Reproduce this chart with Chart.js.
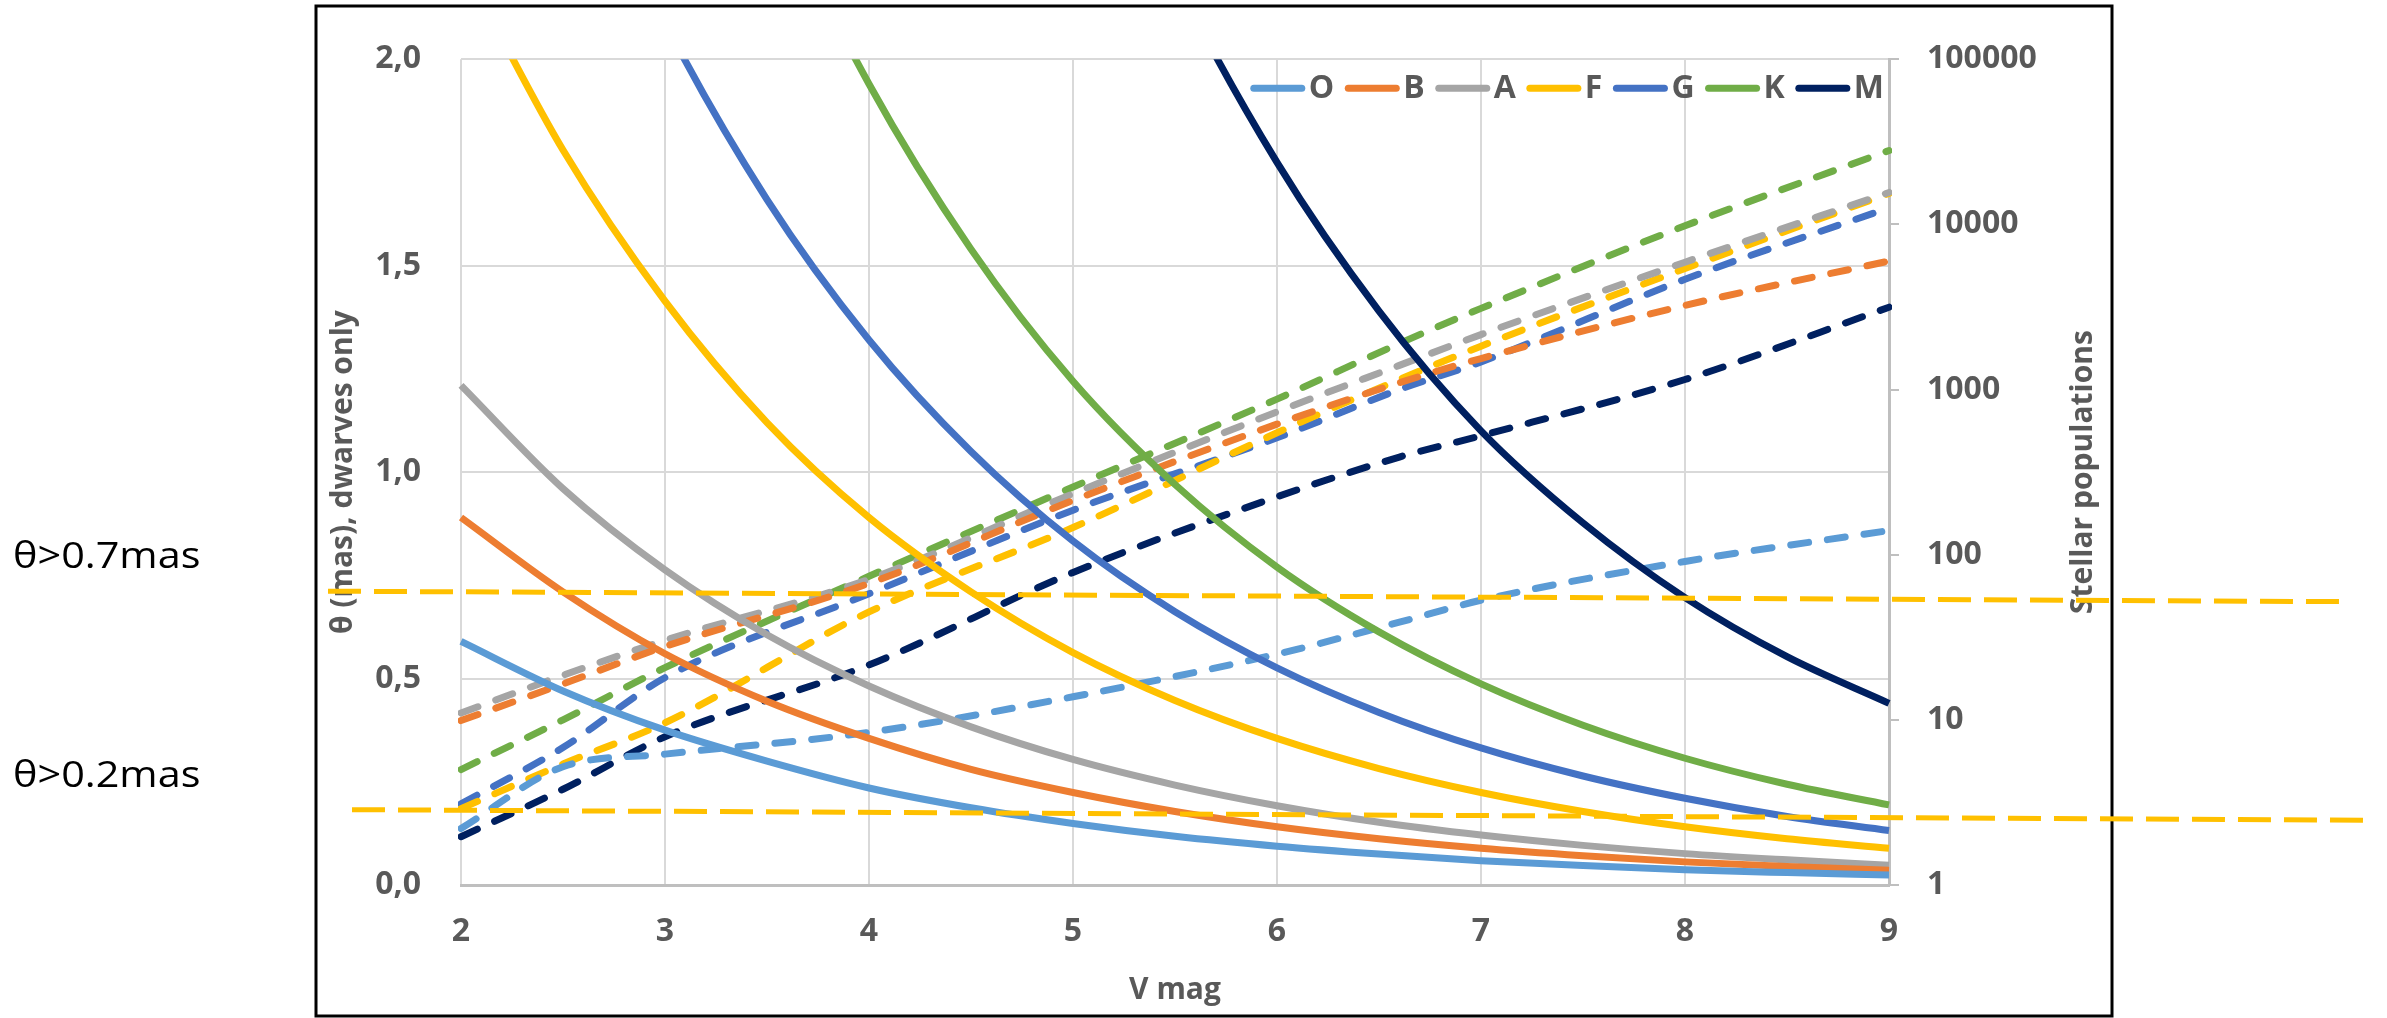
<!DOCTYPE html>
<html>
<head>
<meta charset="utf-8">
<script src="https://cdn.jsdelivr.net/npm/chart.js@4.4.0/dist/chart.umd.min.js"></script>
<style>
  html, body { margin: 0; padding: 0; background: #ffffff; }
  canvas { display: block; }
</style>
</head>
<body>
<canvas id="chart" width="2387" height="1018"></canvas>
<script>

// spectral types, one solid (angular size) and one dashed (population) curve each
var spectralTypes = ['O', 'B', 'A', 'F', 'G', 'K', 'M'];

// angular diameter of dwarfs (mas) vs V mag
var vmagTheta = [2, 2.5, 3, 3.5, 4, 4.5, 5, 5.5, 6, 6.5, 7, 7.5, 8, 8.5, 9];
var thetaO = [0.59, 0.47, 0.375, 0.30, 0.235, 0.187, 0.149, 0.118, 0.094, 0.075, 0.059, 0.047, 0.037, 0.030, 0.024];
var thetaB = [0.89, 0.71, 0.56, 0.445, 0.355, 0.28, 0.224, 0.178, 0.141, 0.112, 0.089, 0.071, 0.056, 0.045, 0.036];
var thetaA = [1.21, 0.96, 0.763, 0.606, 0.482, 0.383, 0.304, 0.242, 0.192, 0.152, 0.121, 0.096, 0.076, 0.061, 0.048];
var thetaF = [2.24, 1.78, 1.414, 1.12, 0.89, 0.71, 0.563, 0.447, 0.355, 0.282, 0.224, 0.178, 0.141, 0.112, 0.089];
var thetaG = [3.3, 2.63, 2.09, 1.66, 1.32, 1.05, 0.833, 0.662, 0.526, 0.418, 0.332, 0.264, 0.21, 0.166, 0.132];
var thetaK = [4.86, 3.86, 3.07, 2.44, 1.94, 1.54, 1.22, 0.97, 0.77, 0.613, 0.487, 0.387, 0.307, 0.244, 0.194];
var thetaM = [11.0, 8.77, 6.97, 5.54, 4.40, 3.49, 2.77, 2.20, 1.75, 1.39, 1.10, 0.877, 0.696, 0.553, 0.44];

var vmagCount = [2, 2.5, 3, 4, 5, 6, 6.6, 7, 8, 9];
var countO = [2.2, 5.2, 6.2, 8.4, 13.8, 25, 39, 53, 91, 140];
var countB = [9.9, 16.5, 27.8, 67, 213, 617, 1100, 1540, 3230, 6000];
var countA = [11.0, 18.6, 30.3, 71, 234, 733, 1400, 2150, 5900, 15600];
var countF = [2.9, 5.4, 9.6, 45, 146, 547, 1150, 1830, 5400, 15400];
var countG = [3.1, 6.8, 18, 58, 186, 510, 1000, 1470, 4650, 12600];
var countK = [5.0, 10, 20.7, 74, 257, 875, 1900, 3100, 9800, 28000];
var countM = [1.96, 3.8, 7.9, 21.5, 78, 224, 390, 525, 1150, 3150];

// tick labels as printed on the axes
var vmagTickLabels = ['2', '3', '4', '5', '6', '7', '8', '9'];
var thetaTickLabels = ['0,0', '0,5', '1,0', '1,5', '2,0'];
var countTickLabels = ['1', '10', '100', '1000', '10000', '100000'];

// hand drawn threshold lines (theta where they meet the left and right plot edges)
var thresholdLabels = ['\u03b8>0.7mas', '\u03b8>0.2mas'];
var thresholdAtLeft = [0.71, 0.181];
var thresholdAtRight = [0.692, 0.163];

var thetaSeries = [thetaO, thetaB, thetaA, thetaF, thetaG, thetaK, thetaM];
var countSeries = [countO, countB, countA, countF, countG, countK, countM];

// Office palette
var typeColors = ['#5B9BD5', '#ED7D31', '#A5A5A5', '#FFC000', '#4472C4', '#70AD47', '#002060'];
var textGrey = '#595959';
var gridGrey = '#D9D9D9';
var axisGrey = '#BFBFBF';
var fontFamily = '"Open Sans", "Liberation Sans", sans-serif';

function toPoints(xs, ys) {
  return xs.map(function (x, i) { return { x: x, y: ys[i] }; });
}

var datasets = [];

spectralTypes.forEach(function (t, i) {
  datasets.push({
    label: t,
    data: toPoints(vmagTheta, thetaSeries[i]),
    yAxisID: 'y',
    borderColor: typeColors[i],
    borderWidth: 7,
    pointRadius: 0,
    cubicInterpolationMode: 'monotone',
    clip: { left: 3, top: 0, right: 3, bottom: 3 }
  });
});

spectralTypes.forEach(function (t, i) {
  datasets.push({
    label: t + ' population',
    data: toPoints(vmagCount, countSeries[i]),
    yAxisID: 'y2',
    borderColor: typeColors[i],
    borderWidth: 7,
    borderDash: [18, 19],
    borderCapStyle: 'round',
    pointRadius: 0,
    cubicInterpolationMode: 'monotone',
    clip: { left: 3, top: 0, right: 3, bottom: 3 }
  });
});

function parseTick(s) {
  return Number(s.replace(',', '.'));
}

//
// Legend for the solid curves, sitting inside the top right of the plot
//
var typeLegend = {
  id: 'typeLegend',
  afterDatasetsDraw: function (chart) {
    var ctx = chart.ctx;
    var area = chart.chartArea;
    var lineLen = 54, lineGap = 4, itemGap = 11;
    var y = area.top + 29;

    ctx.save();
    ctx.font = 'bold 32px ' + fontFamily;
    var total = 0;
    spectralTypes.forEach(function (t, i) {
      total += lineLen + lineGap + ctx.measureText(t).width;
      if (i > 0) total += itemGap;
    });

    var x = area.right - 5 - total;
    ctx.textBaseline = 'middle';
    ctx.textAlign = 'left';
    spectralTypes.forEach(function (t, i) {
      ctx.strokeStyle = typeColors[i];
      ctx.lineWidth = 7;
      ctx.lineCap = 'round';
      ctx.beginPath();
      ctx.moveTo(x + 3, y);
      ctx.lineTo(x + lineLen - 3, y);
      ctx.stroke();
      x += lineLen + lineGap;
      ctx.fillStyle = textGrey;
      ctx.fillText(t, x, y + 1);
      x += ctx.measureText(t).width + itemGap;
    });
    ctx.restore();
  }
};

//
// Frame, right axis title and the two threshold annotations
//
var decorations = {
  id: 'decorations',
  afterDraw: function (chart) {
    var ctx = chart.ctx;
    var area = chart.chartArea;
    var yScale = chart.scales.y;

    ctx.save();

    // frame round the chart
    ctx.strokeStyle = '#000000';
    ctx.lineWidth = 3;
    ctx.strokeRect(316, 6, 2112 - 316, 1016 - 6);

    // right axis title, reading upwards like the left one
    ctx.save();
    ctx.translate(2083, (area.top + area.bottom) / 2);
    ctx.rotate(-Math.PI / 2);
    ctx.font = 'bold 30px ' + fontFamily;
    ctx.fillStyle = textGrey;
    ctx.textAlign = 'center';
    ctx.textBaseline = 'middle';
    ctx.fillText('Stellar populations', 0, 0);
    ctx.restore();

    // dashed threshold lines, extended past the frame
    var startX = [328, 352];
    var endX = [2350, 2372];
    var labelY = [558, 777];
    thresholdLabels.forEach(function (label, i) {
      var y0 = yScale.getPixelForValue(thresholdAtLeft[i]);
      var y1 = yScale.getPixelForValue(thresholdAtRight[i]);
      var slope = (y1 - y0) / (area.right - area.left);
      ctx.strokeStyle = '#FFC000';
      ctx.lineWidth = 5;
      ctx.setLineDash([33, 13]);
      ctx.beginPath();
      ctx.moveTo(startX[i], y0 + slope * (startX[i] - area.left));
      ctx.lineTo(endX[i], y0 + slope * (endX[i] - area.left));
      ctx.stroke();

      ctx.save();
      ctx.setLineDash([]);
      ctx.translate(13, labelY[i]);
      ctx.scale(1.15, 1);
      ctx.font = '36px ' + fontFamily;
      ctx.fillStyle = '#000000';
      ctx.textAlign = 'left';
      ctx.textBaseline = 'middle';
      ctx.fillText(label, 0, 0);
      ctx.restore();
    });

    ctx.restore();
  }
};

var tickFont = { family: fontFamily, size: 32, weight: 'bold' };
var titleFont = { family: fontFamily, size: 30, weight: 'bold' };

var ctx = document.getElementById('chart').getContext('2d');

new Chart(ctx, {
  type: 'line',
  data: { datasets: datasets },
  options: {
    responsive: false,
    devicePixelRatio: 1,
    animation: false,
    layout: { padding: { left: 316, right: 275, top: 32, bottom: 2 } },
    plugins: {
      legend: { display: false },
      tooltip: { enabled: false }
    },
    scales: {
      x: {
        type: 'linear',
        min: 2,
        max: 9,
        afterBuildTicks: function (scale) {
          scale.ticks = vmagTickLabels.map(function (s) { return { value: parseTick(s) }; });
        },
        afterFit: function (scale) { scale.height = 131; },
        ticks: {
          color: textGrey,
          font: tickFont,
          padding: 28,
          maxRotation: 0,
          callback: function (value) { return vmagTickLabels[vmagTickLabels.indexOf(String(value))]; }
        },
        grid: { color: gridGrey, lineWidth: 2, drawTicks: false },
        border: { color: axisGrey, width: 3 },
        title: { display: true, text: 'V mag', color: textGrey, font: titleFont, padding: { top: 0, bottom: 8 } }
      },
      y: {
        type: 'linear',
        position: 'left',
        min: 0,
        max: 2,
        afterBuildTicks: function (scale) {
          scale.ticks = thetaTickLabels.map(function (s) { return { value: parseTick(s) }; });
        },
        afterFit: function (scale) { scale.width = 145; },
        ticks: {
          color: textGrey,
          font: tickFont,
          padding: 40,
          callback: function (value, index) { return thetaTickLabels[index]; }
        },
        grid: { color: gridGrey, lineWidth: 2, drawTicks: false },
        border: { display: false },
        title: { display: true, text: '\u03b8 (mas), dwarves only', color: textGrey, font: titleFont, padding: { top: 9, bottom: 0 } }
      },
      y2: {
        type: 'logarithmic',
        position: 'right',
        min: 1,
        max: 100000,
        afterBuildTicks: function (scale) {
          scale.ticks = countTickLabels.map(function (s) { return { value: parseTick(s) }; });
        },
        afterFit: function (scale) { scale.width = 223; },
        ticks: {
          color: textGrey,
          font: tickFont,
          padding: 28,
          callback: function (value, index) { return countTickLabels[index]; }
        },
        grid: { drawOnChartArea: false, drawTicks: true, tickLength: 10, color: axisGrey, lineWidth: 2 },
        border: { color: axisGrey, width: 3 }
      }
    }
  },
  plugins: [typeLegend, decorations]
});
</script>
</body>
</html>
